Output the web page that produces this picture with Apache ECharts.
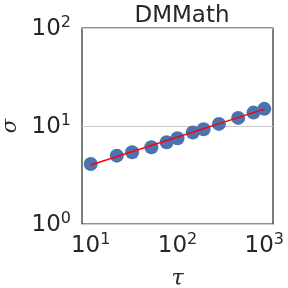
<!DOCTYPE html>
<html><head><meta charset="utf-8">
<script src="https://cdn.jsdelivr.net/npm/echarts@6/dist/echarts.min.js"></script>
<style>html,body{margin:0;padding:0;background:#fff}#c{width:288px;height:288px}</style>
</head><body><div id="c"></div>
<script>
const tau = [10, 20, 30, 50, 75, 100, 150, 200, 300, 500, 750, 1000];
const sigma = [4.10, 4.98, 5.39, 6.07, 6.83, 7.50, 8.57, 9.27, 10.5, 12.1, 13.7, 14.96];
const fitX = [10, 1000];
const fitY = [4.0, 14.86];
const xTicks = [10, 100, 1000];
const titleText = 'DMMath';
const xName = 'τ';
const yName = 'σ';

const chart = echarts.init(document.getElementById('c'), null, {renderer: 'canvas'});
const fmt = v => { const l = Math.log10(v); const e = Math.round(l); if (Math.abs(l - e) > 0.01) return ''; return '{b|10}{s|' + e + '}'; };
const rich = {
  b: {fontSize: 23, fontFamily: 'DejaVu Sans', color: '#262626', verticalAlign: 'bottom'},
  s: {fontSize: 16, fontFamily: 'DejaVu Sans', color: '#262626', padding: [0, 0, 10, 0], verticalAlign: 'bottom'}
};
chart.setOption({
  animation: false,
  title: {text: titleText, left: 177, top: 0, textAlign: 'center',
    textStyle: {fontSize: 23, fontWeight: 'normal', fontFamily: 'DejaVu Sans', color: '#262626'}},
  grid: {left: 82, right: 15, top: 28, bottom: 64, show: true, borderColor: '#262626', borderWidth: 1.2,
    containLabel: false, outerBoundsMode: 'none'},
  xAxis: {type: 'log', logBase: 10, min: Math.pow(10, 0.9), max: Math.pow(10, 3.1),
    name: xName, nameLocation: 'middle', nameGap: 44,
    nameTextStyle: {fontSize: 22, fontFamily: 'DejaVu Serif', fontStyle: 'italic', color: '#262626'},
    axisLine: {show: false}, axisTick: {show: false}, splitLine: {show: false}, minorTick: {show: false},
    axisLabel: {formatter: fmt, rich: rich, margin: 8, customValues: xTicks}},
  yAxis: {type: 'log', logBase: 10, min: 1, max: 100,
    name: yName, nameLocation: 'middle', nameGap: 56,
    nameTextStyle: {fontSize: 21, fontFamily: 'DejaVu Serif', fontStyle: 'italic', color: '#262626'},
    axisLine: {show: false}, axisTick: {show: false},
    splitLine: {show: true, lineStyle: {color: '#cccccc', width: 1}},
    axisLabel: {formatter: fmt, rich: rich, margin: 11}},
  series: [
    {type: 'scatter', data: tau.map((t, i) => [t, sigma[i]]), symbolSize: 14,
      itemStyle: {color: '#4c72b0', opacity: 1}, z: 2},
    {type: 'line', data: fitX.map((t, i) => [t, fitY[i]]), symbol: 'none',
      lineStyle: {color: '#ff0000', width: 1.5}, z: 3}
  ]
});
</script></body></html>
